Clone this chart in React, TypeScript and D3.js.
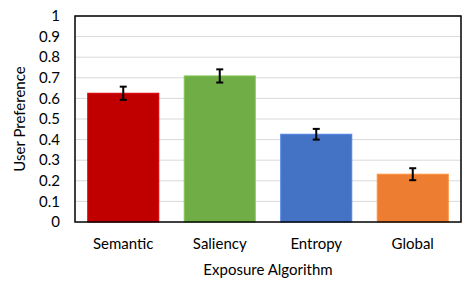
import React, { useEffect, useRef } from 'react';
import * as d3 from 'd3';

const algorithms = ['Semantic', 'Saliency', 'Entropy', 'Global'];
const preference = [0.625, 0.709, 0.426, 0.232];
const errors = [0.032, 0.032, 0.026, 0.029];
const barColors = ['#C00000', '#70AD47', '#4472C4', '#ED7D31'];
const yTicks = [0, 0.1, 0.2, 0.3, 0.4, 0.5, 0.6, 0.7, 0.8, 0.9, 1];

const width = 476;
const height = 289;
const margin = { top: 16, right: 15, bottom: 67, left: 75 };
const font = 'Lato, "Open Sans", sans-serif';
const fontSize = 15;

export default function App() {
  const ref = useRef<SVGSVGElement>(null);

  useEffect(() => {
    const svg = d3.select(ref.current);
    svg.selectAll('*').remove();

    const innerW = width - margin.left - margin.right;
    const innerH = height - margin.top - margin.bottom;

    const x = d3.scaleBand()
      .domain(algorithms)
      .range([0, innerW])
      .paddingInner(0.264)
      .paddingOuter(0.132);

    const y = d3.scaleLinear().domain([0, 1]).range([innerH, 0]);

    const g = svg.append('g')
      .attr('transform', 'translate(' + margin.left + ',' + margin.top + ')');

    // gridlines
    g.append('g').selectAll('line')
      .data(yTicks.slice(1))
      .enter().append('line')
      .attr('x1', 0)
      .attr('x2', innerW)
      .attr('y1', d => y(d))
      .attr('y2', d => y(d))
      .attr('stroke', '#d9d9d9')
      .attr('stroke-width', 1);

    // tick labels
    g.append('g').selectAll('text')
      .data(yTicks)
      .enter().append('text')
      .attr('x', -15)
      .attr('y', d => y(d))
      .attr('dy', '0.35em')
      .attr('text-anchor', 'end')
      .attr('font-family', font)
      .attr('font-size', fontSize)
      .attr('fill', '#000')
      .text(d => String(d));

    const data = algorithms.map((a, i) => ({ a, v: preference[i], e: errors[i], c: barColors[i] }));

    g.append('g').selectAll('rect')
      .data(data)
      .enter().append('rect')
      .attr('x', d => x(d.a)!)
      .attr('y', d => y(d.v))
      .attr('width', x.bandwidth())
      .attr('height', d => innerH - y(d.v))
      .attr('fill', d => d.c)
      .attr('stroke', d => d3.color(d.c)!.brighter(0.4).toString())
      .attr('stroke-width', 1);

    // error bars
    const eb = g.append('g').selectAll('g')
      .data(data)
      .enter().append('g')
      .attr('stroke', '#000')
      .attr('stroke-width', 2);

    eb.append('line')
      .attr('x1', d => x(d.a)! + x.bandwidth() / 2)
      .attr('x2', d => x(d.a)! + x.bandwidth() / 2)
      .attr('y1', d => y(d.v + d.e))
      .attr('y2', d => y(d.v - d.e));
    eb.append('line')
      .attr('x1', d => x(d.a)! + x.bandwidth() / 2 - 3.5)
      .attr('x2', d => x(d.a)! + x.bandwidth() / 2 + 3.5)
      .attr('y1', d => y(d.v + d.e))
      .attr('y2', d => y(d.v + d.e));
    eb.append('line')
      .attr('x1', d => x(d.a)! + x.bandwidth() / 2 - 3.5)
      .attr('x2', d => x(d.a)! + x.bandwidth() / 2 + 3.5)
      .attr('y1', d => y(d.v - d.e))
      .attr('y2', d => y(d.v - d.e));

    // frame
    g.append('rect')
      .attr('x', 0)
      .attr('y', 0)
      .attr('width', innerW)
      .attr('height', innerH)
      .attr('fill', 'none')
      .attr('stroke', '#000')
      .attr('stroke-width', 1.5);

    // category labels
    g.append('g').selectAll('text')
      .data(algorithms)
      .enter().append('text')
      .attr('x', d => x(d)! + x.bandwidth() / 2)
      .attr('y', innerH + 27)
      .attr('text-anchor', 'middle')
      .attr('font-family', font)
      .attr('font-size', fontSize)
      .attr('fill', '#000')
      .text(d => d);

    g.append('text')
      .attr('x', innerW / 2)
      .attr('y', innerH + 53)
      .attr('text-anchor', 'middle')
      .attr('font-family', font)
      .attr('font-size', fontSize)
      .attr('fill', '#000')
      .text('Exposure Algorithm');

    g.append('text')
      .attr('transform', 'translate(' + (-50) + ',' + innerH / 2 + ') rotate(-90)')
      .attr('text-anchor', 'middle')
      .attr('font-family', font)
      .attr('font-size', fontSize)
      .attr('fill', '#000')
      .text('User Preference');
  }, []);

  return (
    <svg ref={ref} width={width} height={height} style={{ position: 'absolute', left: 0, top: 0 }} />
  );
}
